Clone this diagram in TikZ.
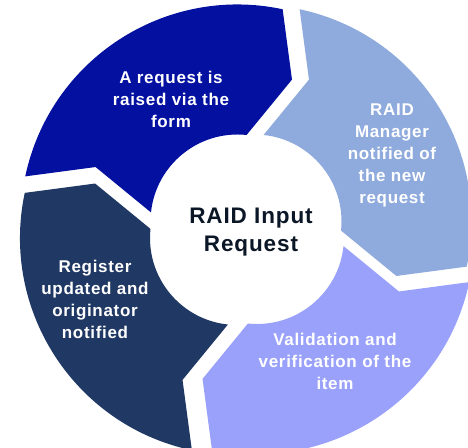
\documentclass[tikz,border=0pt]{standalone}
\usepackage{fontspec}
\setmainfont{Liberation Sans}
\newfontfamily\spacedfont[LetterSpace=4]{Liberation Sans}
\usetikzlibrary{calc}
\definecolor{segA}{HTML}{0310A0}
\definecolor{segB}{HTML}{8FAADC}
\definecolor{segC}{HTML}{99A1FA}
\definecolor{segD}{HTML}{203864}
\definecolor{ctext}{HTML}{0B1726}
\newcommand\cycseg[4]{%
  \pgfmathsetmacro\tA{#2-12}\pgfmathsetmacro\tB{#2-90-12}%
  \pgfmathsetmacro\tC{#2-90-21}\pgfmathsetmacro\tD{#2-90-6}%
  \pgfmathsetmacro\tE{#2-6}\pgfmathsetmacro\tF{#2-21}%
  \begin{scope}[shift={(246pt,217pt)},shift={(#3pt,#4pt)}]
    \fill[#1] (\tA:217pt) arc[start angle=\tA, end angle=\tB, radius=217pt]
      -- (\tC:152pt) -- (\tD:87pt)
      arc[start angle=\tD, end angle=\tE, radius=87pt]
      -- (\tF:152pt) -- cycle;
  \end{scope}}
\tikzset{
  segtext/.style={text=white, align=center, font=\spacedfont\bfseries\fontsize{17}{22}\selectfont},
  centertext/.style={text=ctext, align=center, font=\spacedfont\bfseries\fontsize{22.5}{28}\selectfont}
}
\begin{document}
\begin{tikzpicture}[x=1pt,y=1pt]
  \useasboundingbox (0,0) rectangle (468,447);
  \fill[white] (0,0) rectangle (468,447);
  \clip (0,0) rectangle (468,447);
  \cycseg{segA}{180}{-8.5}{8.5}
  \cycseg{segB}{90}{8.5}{8.5}
  \cycseg{segC}{0}{11}{-7}
  \cycseg{segD}{-90}{-9}{-8}
  \node[segtext] (t1) at (171,348) {A request is\\raised via the\\form};
  \node[segtext] (t2) at (392,292) {RAID\\Manager\\notified of\\the new\\request};
  \node[segtext] (t3) at (335,86) {Validation and\\verification of the\\item};
  \node[segtext] (t4) at (95,148) {Register\\updated and\\originator\\notified};
  \node[centertext] (ctr) at (251,215) {RAID Input\\Request};
\end{tikzpicture}
\end{document}
